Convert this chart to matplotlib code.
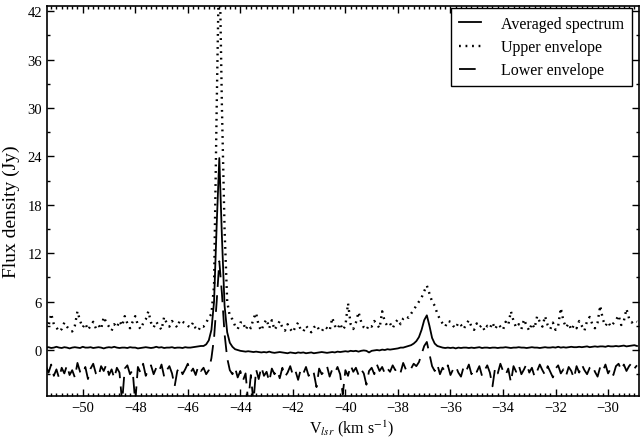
import numpy as np
import matplotlib
matplotlib.use("Agg")
import matplotlib.pyplot as plt
from matplotlib.ticker import MultipleLocator

plt.rcParams['font.family'] = ['Liberation Serif', 'DejaVu Serif']
plt.rcParams['mathtext.fontset'] = 'stix'
plt.rcParams['lines.scale_dashes'] = False
plt.rcParams['axes.unicode_minus'] = True

# channel grid (km/s)
v_start = -51.4
v_step = 0.1

avg = [
    0.3, 0.35, 0.25, 0.3, 0.4, 0.3, 0.25, 0.35, 0.3, 0.2,
    0.3, 0.35, 0.3, 0.25, 0.4, 0.3, 0.3, 0.35, 0.25, 0.3,
    0.35, 0.3, 0.2, 0.3, 0.35, 0.3, 0.4, 0.3, 0.25, 0.3,
    0.3, 0.25, 0.35, 0.3, 0.3, 0.2, 0.25, 0.3, 0.35, 0.3,
    0.25, 0.3, 0.4, 0.3, 0.35, 0.25, 0.3, 0.3, 0.35, 0.25,
    0.3, 0.3, 0.25, 0.35, 0.3, 0.3, 0.35, 0.4, 0.45, 0.5,
    0.5, 0.7, 1.2, 2.5, 6.0, 15.5, 23.8, 14.0, 5.5, 2.2,
    0.9, 0.4, 0.1, 0.0, -0.1, -0.15, -0.2, -0.15, -0.2, -0.25,
    -0.2, -0.25, -0.3, -0.25, -0.3, -0.2, -0.3, -0.35, -0.3, -0.25,
    -0.3, -0.35, -0.4, -0.3, -0.35, -0.4, -0.3, -0.35, -0.3, -0.4,
    -0.35, -0.3, -0.4, -0.35, -0.3, -0.25, -0.3, -0.35, -0.3, -0.25,
    -0.3, -0.2, -0.25, -0.2, -0.15, -0.2, -0.1, -0.15, -0.1, -0.2,
    -0.1, -0.05, -0.1, -0.3, -0.1, -0.05, 0.0, -0.05, 0.05, 0.0,
    0.1, 0.05, 0.1, 0.15,
    0.2, 0.3, 0.3, 0.4, 0.5, 0.6, 0.8, 1.1, 1.6, 2.5, 3.7, 4.3, 3.0, 1.5, 0.8, 0.5, 0.4, 0.3,
    0.25, 0.3, 0.25, 0.3, 0.2, 0.3, 0.25, 0.3, 0.3, 0.25,
    0.3, 0.25, 0.3, 0.35, 0.25, 0.3, 0.3, 0.25, 0.3, 0.3,
    0.25, 0.3, 0.3, 0.35, 0.3, 0.25, 0.3, 0.3, 0.35, 0.3,
    0.3, 0.25, 0.3, 0.35, 0.3, 0.3, 0.25, 0.3, 0.35, 0.3,
    0.3, 0.35, 0.3, 0.4, 0.3, 0.35, 0.3, 0.35, 0.4, 0.35,
    0.35, 0.4, 0.35, 0.4, 0.45, 0.35, 0.4, 0.45, 0.4, 0.45,
    0.45, 0.4, 0.5, 0.45, 0.45, 0.5, 0.45, 0.5, 0.55, 0.45,
    0.5, 0.55, 0.6, 0.5,
]

upper = [
    3.5, 3.0, 4.5, 3.2, 2.8, 2.3, 2.6, 3.4, 2.9, 2.5,
    2.3, 3.0, 4.8, 3.6, 2.8, 3.3, 2.5, 3.0, 3.5, 2.7,
    3.1, 2.6, 4.1, 3.4, 2.9, 2.4, 3.2, 2.8, 3.6, 3.0,
    4.2, 3.3, 2.7, 3.5, 4.2, 3.1, 2.6, 3.3, 3.8, 4.8,
    3.4, 2.8, 3.5, 3.0, 2.5, 4.1, 3.3, 2.9, 3.6, 3.2,
    2.8, 3.7, 3.5, 3.3, 3.0, 2.8, 3.4, 2.7, 2.4, 3.0,
    2.9, 3.4, 4.0, 4.5, 8.0, 30.0, 50.0, 30.0, 15.0, 6.0,
    4.2, 3.8, 3.0, 2.6, 3.4, 3.5, 2.5, 3.1, 2.7, 3.9,
    4.6, 3.0, 2.4, 3.3, 3.8, 2.7, 3.7, 2.5, 3.0, 3.6,
    2.8, 2.4, 3.2, 2.6, 2.2, 2.9, 3.4, 2.5, 2.3, 3.0,
    2.6, 2.2, 2.8, 3.1, 2.5, 2.3, 2.9, 2.7, 2.4, 4.0,
    3.0, 2.6, 3.3, 2.5, 3.0, 5.8, 3.2, 2.6, 3.4, 4.7,
    3.5, 2.8, 2.5, 3.1, 2.9, 3.6, 3.2, 2.7, 4.8, 3.5,
    3.0, 3.3, 2.7, 3.4, 3.8, 3.2, 3.9, 4.2, 4.0, 4.5,
    5.0, 5.5, 6.0, 6.5, 7.3, 8.0, 7.0, 6.0, 5.5, 4.5,
    3.8, 3.3, 2.9, 3.6, 3.5, 3.0, 2.7, 3.4, 3.1, 2.6,
    3.2, 3.7, 2.9, 2.5, 3.3, 2.8, 3.1, 2.4, 3.0, 2.7,
    3.4, 2.6, 3.2, 2.9, 2.5, 3.5, 3.1, 4.8, 3.6, 2.8,
    3.2, 2.6, 3.8, 3.0, 2.4, 3.3, 2.7, 4.2, 3.5, 2.9,
    4.2, 3.1, 2.6, 3.4, 2.5, 3.0, 5.2, 3.6, 2.8, 3.3,
    2.5, 3.1, 2.7, 3.6, 3.0, 2.4, 3.6, 4.1, 3.2, 2.7,
    3.4, 5.5, 3.8, 3.0, 3.5, 2.9, 3.3, 3.7, 4.3, 3.1,
    3.6, 5.1, 3.9, 3.4, 3.7, 3.5,
]

lower = [
    -2.0, -2.8, -1.8, -3.2, -2.4, -3.5, -2.2, -2.9, -1.9, -3.1,
    -2.5, -3.4, -1.6, -2.7, -3.0, -2.1, -3.6, -2.3, -1.7, -2.9,
    -3.3, -2.0, -2.6, -1.8, -3.1, -2.4, -3.5, -2.2, -2.8, -6.5,
    -2.3, -1.9, -3.0, -2.5, -6.5, -2.1, -2.8, -1.7, -3.2, -2.4,
    -1.9, -3.0, -2.2, -2.7, -1.8, -3.3, -2.5, -2.0, -2.9, -4.5,
    -2.6, -2.1, -3.0, -2.4, -1.7, -2.8, -2.3, -3.1, -2.0, -2.6,
    -2.2, -3.0, -2.5, -1.0, 1.5, 6.0, 11.0, 7.0, 2.0, -1.0,
    -2.5, -3.0, -2.2, -3.4, -2.6, -3.8, -2.9, -6.5, -3.1, -6.5,
    -2.4, -3.6, -2.1, -3.2, -2.7, -3.9, -2.3, -3.0, -2.5, -3.5,
    -2.2, -3.3, -2.8, -2.0, -3.1, -2.6, -3.7, -2.4, -2.9, -2.1,
    -3.2, -2.5, -2.9, -4.6, -2.3, -3.0, -2.6, -2.0, -3.3, -2.4,
    -2.8, -2.1, -3.0, -5.5, -2.5, -3.2, -1.9, -2.7, -2.2, -3.1,
    -2.4, -2.9, -4.3, -2.6, -2.2, -3.0, -1.8, -2.6, -2.1, -2.9,
    -2.3, -2.7, -1.9, -2.5, -2.2, -2.8, -1.6, -2.4, -2.0, -2.3,
    -1.7, -2.0, -1.5, -0.5, 0.5, 1.0, -0.5, -2.0, -2.6, -1.8,
    -3.0, -2.2, -2.7, -1.9, -3.1, -2.4, -2.0, -2.8, -3.3, -2.1,
    -2.6, -1.8, -3.0, -2.3, -2.7, -2.0, -3.2, -2.5, -1.9, -2.8,
    -4.5, -2.2, -2.9, -1.7, -2.6, -3.1, -2.3, -4.0, -2.0, -2.7,
    -1.9, -3.0, -2.4, -1.7, -2.8, -2.2, -3.3, -2.6, -1.8, -2.5,
    -3.1, -2.0, -2.7, -3.4, -2.3, -1.9, -2.9, -2.4, -3.2, -2.1,
    -2.6, -3.5, -2.0, -2.8, -1.8, -2.5, -3.0, -2.2, -1.9, -2.7,
    -3.3, -2.1, -2.6, -1.8, -2.9, -2.3, -3.1, -2.0, -1.7, -2.5,
    -1.8, -2.6, -2.0, -1.6, -2.3, -1.9,
]

x_ticks = [-50, -48, -46, -44, -42, -40, -38, -36, -34, -32, -30]
y_ticks = [0, 6, 12, 18, 24, 30, 36, 42]

v = v_start + v_step * np.arange(len(avg))

fig = plt.figure(figsize=(6.41, 4.39), dpi=100)
ax = fig.add_axes([0.0733, 0.0957, 0.9237, 0.8873])

ax.plot(v, avg, color='black', lw=1.3, ls='-', label='Averaged spectrum')
ax.plot(v, upper, color='black', lw=1.7, dashes=(1.3, 3.4), label='Upper envelope')
ax.plot(v, lower, color='black', lw=1.3, dashes=(12, 6), label='Lower envelope')

ax.set_xlim(-51.36, -28.82)
ax.set_ylim(-5.7, 42.6)
ax.set_xticks(x_ticks)
ax.set_yticks(y_ticks)
ax.xaxis.set_minor_locator(MultipleLocator(0.2))
ax.yaxis.set_minor_locator(MultipleLocator(3))
ax.tick_params(which='both', direction='in', top=True, right=True, labelsize=10.5, width=1.0)
ax.tick_params(which='major', length=5)
ax.tick_params(which='minor', length=2.5)
for s in ax.spines.values():
    s.set_linewidth(1.2)

ax.set_xlabel(r'V$_{lsr}$ (km s$^{-1}$)', fontsize=11.5)
ax.xaxis.set_label_coords(0.514, -0.056)
ax.set_ylabel('Flux density (Jy)', fontsize=14)
ax.yaxis.set_label_coords(-0.046, 0.475)

leg = ax.legend(loc='upper right', bbox_to_anchor=(0.988, 0.996), fontsize=11.5,
                frameon=True, fancybox=False, edgecolor='black', framealpha=1,
                handlelength=1.4, borderpad=0.5, labelspacing=0.45, handletextpad=1.25,
                borderaxespad=0)
leg.get_frame().set_linewidth(1.0)

fig.savefig('out.png', dpi=100)
